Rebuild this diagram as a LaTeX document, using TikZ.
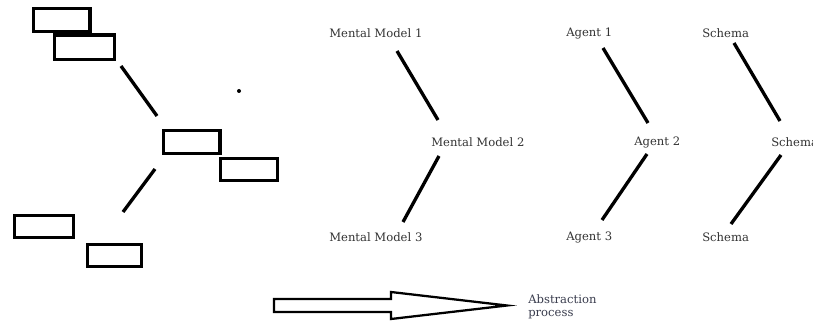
\documentclass[tikz,border=0pt]{standalone}
\usepackage{fontspec}
\setmainfont{DejaVu Serif}
\definecolor{labelgray}{HTML}{333333}
\definecolor{notegray}{HTML}{3A3D4E}
\begin{document}
\begin{tikzpicture}[x=0.75pt,y=-0.75pt,
  box/.style={draw=black,line width=2.5pt,rectangle,inner sep=0pt},
  link/.style={line width=2.5pt},
  lbl/.style={font=\fontsize{8.7}{9.8}\selectfont,text=labelgray,inner sep=0pt,anchor=west}]
\useasboundingbox (0,0) rectangle (813,324);
\fill[white] (0,0) rectangle (813,324);

% stacked boxes on the left
\node[box,minimum width=42.5pt,minimum height=17.5pt] (r1) at (61.5,20) {};
\node[box,fill=white,minimum width=45pt,minimum height=18.5pt] (r2) at (84.5,47.5) {};
\node[box,minimum width=42.5pt,minimum height=17.5pt] (r3) at (191.5,142) {};
\node[box,minimum width=43pt,minimum height=16.5pt] (r4) at (249,169.5) {};
\node[box,minimum width=44.5pt,minimum height=16.5pt] (r5) at (44,226.5) {};
\node[box,minimum width=40.5pt,minimum height=16.5pt] (r6) at (114.5,255.5) {};
\coordinate (a1) at (121,66);
\coordinate (a2) at (157,116);
\coordinate (b1) at (155,169);
\coordinate (b2) at (123,212);
\draw[link] (a1) -- (a2);
\draw[link] (b1) -- (b2);
\fill (239,91) circle (2);

% mental models
\node[lbl] (m1) at (329,33) {Mental Model 1};
\node[lbl] (m2) at (431,142) {Mental Model 2};
\node[lbl] (m3) at (329,237) {Mental Model 3};
\coordinate (m1e) at (397,51);
\coordinate (m2a) at (438,120);
\coordinate (m2b) at (439,156);
\coordinate (m3e) at (403,222);
\draw[link] (m1e) -- (m2a);
\draw[link] (m2b) -- (m3e);

% agents
\node[lbl] (g1) at (566,33) {Agent 1};
\node[lbl] (g2) at (634,142) {Agent 2};
\node[lbl] (g3) at (566,237) {Agent 3};
\coordinate (g1e) at (603,48);
\coordinate (g2a) at (648,123);
\coordinate (g2b) at (647,154);
\coordinate (g3e) at (602,220);
\draw[link] (g1e) -- (g2a);
\draw[link] (g2b) -- (g3e);

% schemas
\node[lbl] (s1) at (702,33) {Schema};
\node[lbl] (s2) at (771,142) {Schema};
\node[lbl] (s3) at (702,237) {Schema};
\coordinate (s1e) at (734,43);
\coordinate (s2a) at (780,121);
\coordinate (s2b) at (781,155);
\coordinate (s3e) at (731,224);
\draw[link] (s1e) -- (s2a);
\draw[link] (s2b) -- (s3e);

% abstraction arrow
\coordinate (t0) at (274,299);
\coordinate (tip) at (507,305.5);
\draw[line width=1.7pt,line join=miter] (t0) -- (391,299) -- (391,292) -- (tip)
  -- (391,319) -- (391,312) -- (274,312) -- cycle;
\node[lbl,text=notegray,align=left,anchor=north west] (abs) at (528,294.5) {Abstraction\\process};
\end{tikzpicture}
\end{document}
